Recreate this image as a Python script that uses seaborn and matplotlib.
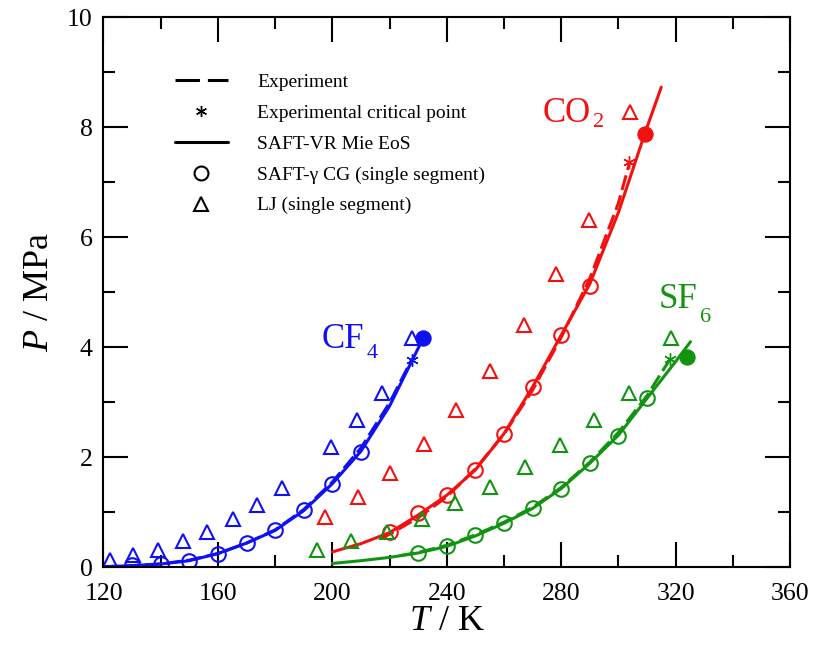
import numpy as np
import pandas as pd
import matplotlib
matplotlib.use("Agg")
import matplotlib.pyplot as plt
import seaborn as sns
from matplotlib.lines import Line2D
from matplotlib.ticker import MultipleLocator

# ---------------- data ----------------
# CF4
T_cf4_vr = [120, 130, 140, 150, 160, 170, 180, 190, 200, 210, 220, 231.7]
P_cf4_vr = [0.01, 0.03, 0.06, 0.12, 0.25, 0.44, 0.67, 1.03, 1.52, 2.11, 2.93, 4.16]
T_cf4_exp = [120, 130, 140, 150, 160, 170, 180, 190, 200, 210, 220, 227.7]
P_cf4_exp = [0.01, 0.03, 0.06, 0.13, 0.25, 0.44, 0.68, 1.05, 1.55, 2.17, 2.99, 3.77]
T_cf4_cg = [130, 140, 150, 160, 170, 180, 190, 200, 210]
P_cf4_cg = [0.04, 0.06, 0.12, 0.25, 0.44, 0.67, 1.04, 1.52, 2.10]
T_cf4_lj = [122.3, 130.2, 139.1, 147.7, 156.3, 165.1, 173.7, 182.3, 199.7, 208.5, 217.2, 227.7]
P_cf4_lj = [0.14, 0.22, 0.32, 0.47, 0.65, 0.87, 1.14, 1.44, 2.19, 2.67, 3.16, 4.16]
crit_cf4_exp = (227.7, 3.77)
crit_cf4_vr = (231.7, 4.16)

# CO2
T_co2_vr = [200, 210, 220, 230, 240, 250, 260, 270, 280, 290, 300, 309.2, 315.0]
P_co2_vr = [0.28, 0.43, 0.63, 0.95, 1.31, 1.77, 2.43, 3.28, 4.22, 5.15, 6.45, 7.88, 8.73]
T_co2_exp = [216.6, 220, 230, 240, 250, 260, 270, 280, 290, 300, 304.0]
P_co2_exp = [0.52, 0.60, 0.90, 1.28, 1.79, 2.42, 3.22, 4.18, 5.25, 6.62, 7.37]
T_co2_cg = [220, 230, 240, 250, 260, 270, 280, 290]
P_co2_cg = [0.64, 0.98, 1.31, 1.76, 2.43, 3.28, 4.22, 5.11]
T_co2_lj = [197.4, 208.8, 220.3, 232.0, 243.4, 255.0, 266.9, 278.1, 289.7, 304.2]
P_co2_lj = [0.91, 1.28, 1.71, 2.25, 2.86, 3.57, 4.40, 5.33, 6.31, 8.28]
crit_co2_exp = (303.7, 7.37)
crit_co2_vr = (309.2, 7.88)

# SF6
T_sf6_vr = [200, 210, 220, 230, 240, 250, 260, 270, 280, 290, 300, 310, 320, 325.2]
P_sf6_vr = [0.07, 0.12, 0.18, 0.26, 0.38, 0.57, 0.80, 1.07, 1.43, 1.89, 2.40, 3.07, 3.74, 4.10]
T_sf6_exp = [223.5, 230, 240, 250, 260, 270, 280, 290, 300, 310, 318.0]
P_sf6_exp = [0.21, 0.27, 0.40, 0.59, 0.82, 1.09, 1.45, 1.91, 2.45, 3.12, 3.78]
T_sf6_cg = [230, 240, 250, 260, 270, 280, 290, 300, 310]
P_sf6_cg = [0.26, 0.38, 0.58, 0.81, 1.07, 1.43, 1.90, 2.38, 3.07]
T_sf6_lj = [194.7, 206.7, 219.2, 231.2, 242.8, 255.0, 267.3, 279.5, 291.4, 303.7, 318.5]
P_sf6_lj = [0.32, 0.47, 0.64, 0.88, 1.16, 1.46, 1.82, 2.22, 2.68, 3.17, 4.16]
crit_sf6_exp = (318.0, 3.78)
crit_sf6_vr = (324.0, 3.82)

legend_labels = ["Experiment", "Experimental critical point", "SAFT-VR Mie EoS",
                 "SAFT-\u03b3 CG (single segment)", "LJ (single segment)"]
x_ticks = [120, 160, 200, 240, 280, 320, 360]
y_ticks = [0, 2, 4, 6, 8, 10]

# ---------------- style ----------------
sns.set_theme(style="white")
plt.rcParams['font.family'] = ['Liberation Serif', 'DejaVu Serif']
plt.rcParams['mathtext.fontset'] = 'custom'
plt.rcParams['mathtext.rm'] = 'Liberation Serif'
plt.rcParams['mathtext.it'] = 'Liberation Serif:italic'
plt.rcParams['text.color'] = 'black'
plt.rcParams['axes.labelcolor'] = 'black'

BLUE = '#1010f5'
RED = '#f51010'
GREEN = '#129412'

fig = plt.figure(figsize=(8.25, 6.49), dpi=100)
ax = fig.add_axes([0.12545, 0.12589, 0.83212, 0.84746])

species = [
    dict(c=BLUE, vr=(T_cf4_vr, P_cf4_vr), exp=(T_cf4_exp, P_cf4_exp), cg=(T_cf4_cg, P_cf4_cg),
         lj=(T_cf4_lj, P_cf4_lj), ce=crit_cf4_exp, cv=crit_cf4_vr),
    dict(c=RED, vr=(T_co2_vr, P_co2_vr), exp=(T_co2_exp, P_co2_exp), cg=(T_co2_cg, P_co2_cg),
         lj=(T_co2_lj, P_co2_lj), ce=crit_co2_exp, cv=crit_co2_vr),
    dict(c=GREEN, vr=(T_sf6_vr, P_sf6_vr), exp=(T_sf6_exp, P_sf6_exp), cg=(T_sf6_cg, P_sf6_cg),
         lj=(T_sf6_lj, P_sf6_lj), ce=crit_sf6_exp, cv=crit_sf6_vr),
]

LW = 2.2
for s in species:
    c = s['c']
    # LJ triangles
    sns.lineplot(x=s['lj'][0], y=s['lj'][1], ax=ax, sort=False, estimator=None,
                 linestyle='', marker='^', markersize=10, markerfacecolor='none',
                 markeredgecolor=c, markeredgewidth=1.5, color=c)
    # SAFT-gamma CG circles
    sns.lineplot(x=s['cg'][0], y=s['cg'][1], ax=ax, sort=False, estimator=None,
                 linestyle='', marker='o', markersize=10.5, markerfacecolor='none',
                 markeredgecolor=c, markeredgewidth=1.5, color=c)
    # experiment (dashed)
    sns.lineplot(x=s['exp'][0], y=s['exp'][1], ax=ax, sort=False, estimator=None,
                 color=c, linewidth=LW, linestyle=(0, (5, 1.8)))
    # SAFT-VR Mie (solid)
    sns.lineplot(x=s['vr'][0], y=s['vr'][1], ax=ax, sort=False, estimator=None,
                 color=c, linewidth=LW)
    # critical points
    sns.lineplot(x=[s['ce'][0]], y=[s['ce'][1]], ax=ax, estimator=None, linestyle='',
                 marker=(6, 2, 0), markersize=9, markeredgecolor=c, markeredgewidth=1.0, color=c)
    sns.lineplot(x=[s['cv'][0]], y=[s['cv'][1]], ax=ax, estimator=None, linestyle='',
                 marker='o', markersize=11, markerfacecolor=c, markeredgecolor=c, color=c)

# species labels
ax.text(196.2, 3.99, "CF", color=BLUE, fontsize=25, ha='left', va='baseline')
ax.text(212.1, 3.72, "4", color=BLUE, fontsize=16, ha='left', va='bottom')
ax.text(273.5, 8.10, "CO", color=RED, fontsize=25, ha='left', va='baseline')
ax.text(291.0, 7.91, "2", color=RED, fontsize=16, ha='left', va='bottom')
ax.text(313.9, 4.71, "SF", color=GREEN, fontsize=25, ha='left', va='baseline')
ax.text(328.4, 4.37, "6", color=GREEN, fontsize=16, ha='left', va='bottom')

# axes
ax.set_xlim(120, 360)
ax.set_ylim(0, 10)
ax.set_xticks(x_ticks)
ax.set_yticks(y_ticks)
ax.xaxis.set_minor_locator(MultipleLocator(20))
ax.yaxis.set_minor_locator(MultipleLocator(1))
ax.tick_params(which='both', direction='in', top=True, right=True, bottom=True, left=True,
               width=1.5, color='black', labelcolor='black')
ax.tick_params(which='major', length=18, labelsize=18.5)
ax.tick_params(axis='x', which='major', pad=11)
ax.tick_params(axis='y', which='major', pad=8)
ax.tick_params(which='minor', length=8.5)
for sp in ax.spines.values():
    sp.set_color('black')
    sp.set_linewidth(1.5)

ax.set_xlabel(r"$T$ / K", fontsize=26, labelpad=0)
ax.set_ylabel(r"$P$ / MPa", fontsize=26, labelpad=8)

# legend
handles = [
    Line2D([], [], color='black', linewidth=LW, dashes=(8, 2.6)),
    Line2D([], [], color='black', linestyle='', marker=(6, 2, 0), markersize=8, markeredgewidth=1.0),
    Line2D([], [], color='black', linewidth=LW),
    Line2D([], [], color='black', linestyle='', marker='o', markersize=10,
           markerfacecolor='none', markeredgewidth=1.5),
    Line2D([], [], color='black', linestyle='', marker='^', markersize=10,
           markerfacecolor='none', markeredgewidth=1.5),
]
leg = ax.legend(handles, legend_labels, loc='upper left', bbox_to_anchor=(0.104, 0.898),
                frameon=False, fontsize=14, handlelength=2.73, handletextpad=1.5,
                labelspacing=0.68, borderpad=0, borderaxespad=0)
for t in leg.get_texts():
    t.set_color('black')

fig.savefig("out.png", dpi=100)
